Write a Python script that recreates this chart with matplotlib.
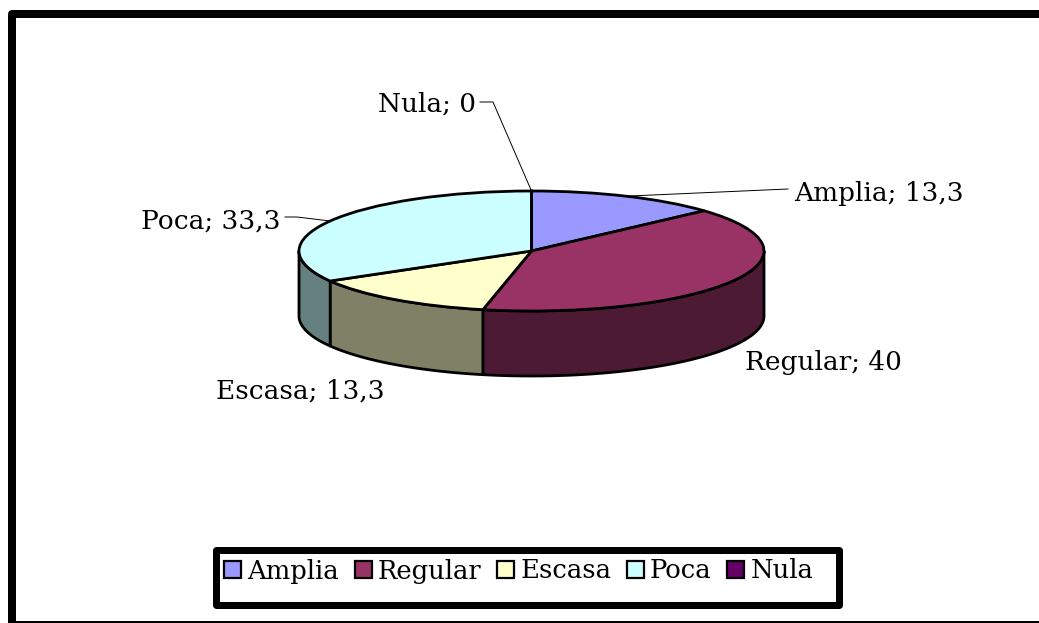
"""Pseudo 3D pie chart of Amplia / Regular / Escasa / Poca / Nula shares."""

import matplotlib

matplotlib.use("Agg")
import matplotlib.pyplot as plt
import numpy as np
from matplotlib.patches import Polygon, Rectangle
from matplotlib.transforms import Affine2D

CATEGORIES = ["Amplia", "Regular", "Escasa", "Poca", "Nula"]
VALUES = [13.3, 40, 13.3, 33.3, 0]

TOP_COLORS = ["#9999ff", "#993366", "#ffffcc", "#ccffff", "#660066"]
SIDE_COLORS = ["#4d4d80", "#4d1a33", "#808066", "#668080", "#330033"]

# all layout is in reference pixels
W, H = 1039, 623
CX, CY, RX, RY, DEPTH = 531.5, 251, 232.5, 60, 65
FONT = "DejaVu Serif"
EDGE = 2.0

LABEL_POS = {
    "Amplia": (794, 201),
    "Regular": (745, 370),
    "Escasa": (216, 399),
    "Poca": (141, 229),
    "Nula": (378, 112),
}
# where each leader line leaves its label
LEADER_START = {
    "Amplia": [(788, 189)],
    "Poca": [(285, 217), (297, 217)],
    "Nula": [(480, 102), (493, 102)],
}


def rim_point(theta_deg, drop=0.0):
    theta = np.radians(theta_deg)
    return CX + RX * np.sin(theta), CY - RY * np.cos(theta) + drop


def draw_sides(ax, edges):
    for start, stop, color in zip(edges[:-1], edges[1:], SIDE_COLORS):
        lo, hi = max(start, 90), min(stop, 270)
        if hi <= lo:
            continue
        theta = np.linspace(lo, hi, 80)
        upper = np.column_stack(rim_point(theta))
        lower = np.column_stack(rim_point(theta, DEPTH))
        ax.add_patch(
            Polygon(
                np.vstack([upper, lower[::-1]]),
                closed=True,
                facecolor=color,
                edgecolor="black",
                linewidth=EDGE,
                joinstyle="round",
            )
        )


def main():
    fig = plt.figure(figsize=(W / 100, H / 100), dpi=100, facecolor="white")
    ax = fig.add_axes([0, 0, 1, 1])

    fractions = np.array(VALUES) / sum(VALUES)
    edges = 360 * np.concatenate([[0], np.cumsum(fractions)])
    draw_sides(ax, edges)

    wedges, _ = ax.pie(
        VALUES,
        colors=TOP_COLORS,
        startangle=90,
        counterclock=False,
        wedgeprops={"edgecolor": "black", "linewidth": EDGE},
    )
    squash = Affine2D().scale(RX, -RY).translate(CX, CY) + ax.transData
    for wedge in wedges:
        wedge.set_transform(squash)

    ax.set_aspect("auto")
    ax.set_xlim(0, W)
    ax.set_ylim(H, 0)
    ax.axis("off")

    for i, (cat, val) in enumerate(zip(CATEGORIES, VALUES)):
        x, y = LABEL_POS[cat]
        label = f"{cat}; {val:g}".replace(".", ",")
        ax.text(x, y, label, family=FONT, fontsize=19, color="black", ha="left", va="baseline")
        if cat in LEADER_START:
            mid = (edges[i] + edges[i + 1]) / 2
            pts = LEADER_START[cat] + [rim_point(mid)]
            ax.plot(*zip(*pts), color="black", linewidth=0.7, solid_joinstyle="miter")

    # chart frame, runs off the right and bottom of the picture
    # white face so agg does not clip the off-canvas edges away
    ax.add_patch(
        Rectangle(
            (12, 14),
            1100,
            611,
            facecolor="white",
            edgecolor="black",
            linewidth=5.76,
            joinstyle="round",
            zorder=0,
        )
    )
    ax.add_patch(
        Rectangle(
            (215.5, 549.5),
            623,
            55,
            facecolor="white",
            edgecolor="black",
            linewidth=5.04,
            joinstyle="round",
            zorder=4,
        )
    )
    handles = [
        Rectangle((0, 0), 1, 1, facecolor=c, edgecolor="black", linewidth=1.6)
        for c in TOP_COLORS
    ]
    legend = ax.legend(
        handles,
        CATEGORIES,
        ncol=5,
        frameon=False,
        loc="center left",
        bbox_to_anchor=(219, 571),
        bbox_transform=ax.transData,
        prop={"family": FONT, "size": 18.6},
        handlelength=0.66,
        handleheight=0.66,
        handletextpad=0.24,
        columnspacing=0.6,
        borderpad=0.2,
        borderaxespad=0,
    )
    legend.set_zorder(5)

    fig.savefig("out.png", dpi=100, facecolor="white")
    plt.close(fig)


if __name__ == "__main__":
    main()
